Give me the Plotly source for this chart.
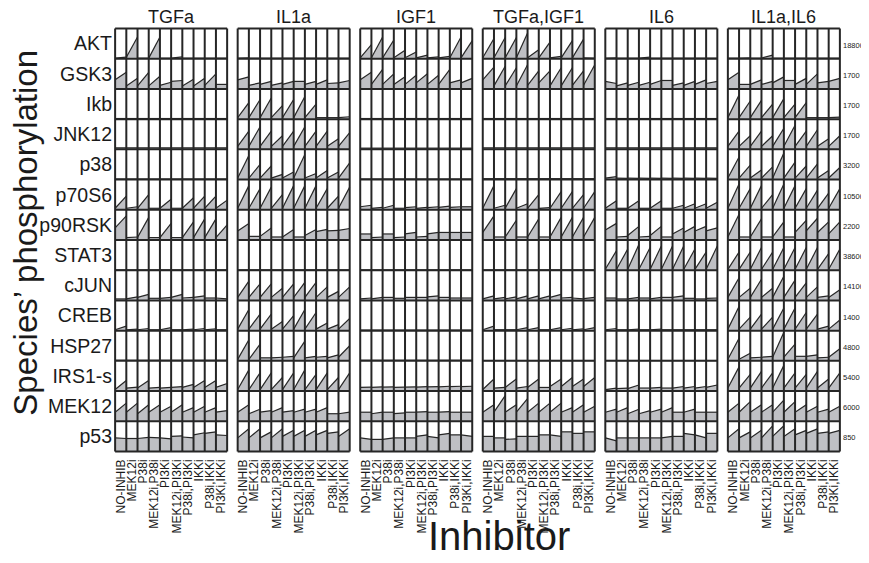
import plotly.graph_objects as go

stimuli = ["TGFa", "IL1a", "IGF1", "TGFa,IGF1", "IL6", "IL1a,IL6"]
inhibitors = ["NO-INHIB", "MEK12i", "P38i", "MEK12i,P38i", "PI3Ki", "MEK12i,PI3Ki",
              "P38i,PI3Ki", "IKKi", "P38i,IKKi", "PI3Ki,IKKi"]
species = ["AKT", "GSK3", "Ikb", "JNK12", "p38", "p70S6", "p90RSK", "STAT3",
           "cJUN", "CREB", "HSP27", "IRS1-s", "MEK12", "p53"]
max_values = ["18800", "1700", "1700", "1700", "3200", "10500", "2200", "38600",
              "14100", "1400", "4800", "5400", "6000", "850"]

# normalised values at t=0 and t=30 (one sub-list per stimulus, 10 inhibitors each)
AKT_t0 = [[0.02, 0.05, 0.02, 0.02, 0.02, 0.02, 0.02, 0.02, 0.02, 0.02],
          [0.02] * 10, [0.03] * 10, [0.03] * 10, [0.02] * 10, [0.02] * 10]
AKT_t30 = [[0.05, 0.72, 0.02, 0.72, 0.02, 0.06, 0.02, 0.02, 0.02, 0.02],
           [0.03, 0.02, 0.02, 0.02, 0.02, 0.02, 0.02, 0.02, 0.02, 0.02],
           [0.47, 0.72, 0.62, 0.28, 0.22, 0.12, 0.06, 0.08, 0.72, 0.60],
           [0.67, 0.70, 0.70, 0.85, 0.30, 0.55, 0.08, 0.60, 0.65, 0.02],
           [0.03, 0.02, 0.02, 0.05, 0.02, 0.02, 0.02, 0.02, 0.02, 0.02],
           [0.02, 0.03, 0.02, 0.12, 0.02, 0.02, 0.02, 0.02, 0.02, 0.02]]

GSK3_t0 = [[0.30, 0.10, 0.10, 0.10, 0.12, 0.25, 0.10, 0.10, 0.12, 0.15],
           [0.30, 0.12, 0.15, 0.12, 0.15, 0.25, 0.15, 0.15, 0.18, 0.20],
           [0.30, 0.15, 0.15, 0.15, 0.15, 0.20, 0.15, 0.15, 0.20, 0.20],
           [0.30, 0.10, 0.10, 0.10, 0.12, 0.20, 0.10, 0.10, 0.12, 0.12],
           [0.25, 0.10, 0.12, 0.12, 0.15, 0.28, 0.12, 0.12, 0.15, 0.18],
           [0.30, 0.15, 0.15, 0.15, 0.20, 0.28, 0.15, 0.15, 0.20, 0.25]]
GSK3_t30 = [[0.55, 0.35, 0.55, 0.42, 0.22, 0.28, 0.32, 0.35, 0.50, 0.15],
            [0.40, 0.20, 0.25, 0.20, 0.25, 0.25, 0.25, 0.30, 0.20, 0.28],
            [0.55, 0.65, 0.50, 0.40, 0.45, 0.50, 0.45, 0.65, 0.30, 0.35],
            [0.72, 0.75, 0.70, 0.80, 0.60, 0.60, 0.70, 0.70, 0.60, 0.80],
            [0.18, 0.20, 0.22, 0.22, 0.28, 0.28, 0.20, 0.25, 0.30, 0.25],
            [0.55, 0.15, 0.30, 0.25, 0.40, 0.28, 0.35, 0.50, 0.25, 0.35]]

Ikb_t0 = [[0.02] * 10, [0.05] * 10, [0.02] * 10, [0.02] * 10, [0.02] * 10, [0.05] * 10]
Ikb_t30 = [[0.02] * 10,
           [0.55, 0.65, 0.70, 0.45, 0.65, 0.75, 0.50, 0.05, 0.05, 0.08],
           [0.02] * 10, [0.02] * 10, [0.02] * 10,
           [0.80, 0.60, 0.62, 0.50, 0.68, 0.50, 0.55, 0.05, 0.05, 0.07]]

JNK12_t0 = [[0.05] * 10, [0.10] * 10, [0.04] * 10, [0.05] * 10, [0.05] * 10, [0.10] * 10]
JNK12_t30 = [[0.05] * 10,
             [0.60, 0.75, 0.60, 0.45, 0.60, 0.75, 0.60, 0.60, 0.35, 0.55],
             [0.04] * 10, [0.05] * 10, [0.05] * 10,
             [0.60, 0.45, 0.60, 0.45, 0.70, 0.80, 0.60, 0.65, 0.35, 0.45]]

p38_t0 = [[0.02] * 10, [0.05] * 10, [0.02] * 10, [0.03] * 10, [0.05] * 10, [0.05] * 10]
p38_t30 = [[0.02] * 10,
           [0.80, 0.50, 0.45, 0.17, 0.25, 0.83, 0.20, 0.30, 0.25, 0.55],
           [0.02] * 10, [0.03] * 10,
           [0.10, 0.04, 0.04, 0.04, 0.04, 0.04, 0.04, 0.04, 0.04, 0.04],
           [0.75, 0.48, 0.32, 0.42, 0.88, 0.58, 0.45, 0.52, 0.30, 0.40]]

p70S6_t0 = [[0.05] * 10, [0.05] * 10,
            [0.10, 0.05, 0.05, 0.05, 0.07, 0.05, 0.07, 0.08, 0.08, 0.10],
            [0.05] * 10, [0.05] * 10, [0.05] * 10]
p70S6_t30 = [[0.45, 0.10, 0.50, 0.05, 0.35, 0.05, 0.40, 0.45, 0.45, 0.32],
             [0.80, 0.70, 0.75, 0.50, 0.80, 0.80, 0.80, 0.70, 0.45, 0.75],
             [0.15, 0.08, 0.15, 0.05, 0.10, 0.08, 0.10, 0.12, 0.10, 0.10],
             [0.80, 0.15, 0.70, 0.20, 0.50, 0.07, 0.60, 0.60, 0.50, 0.60],
             [0.30, 0.05, 0.30, 0.05, 0.30, 0.05, 0.15, 0.20, 0.20, 0.25],
             [0.85, 0.70, 0.80, 0.50, 0.85, 0.80, 0.70, 0.65, 0.55, 0.70]]

p90RSK_t0 = [[0.40, 0.08, 0.08, 0.08, 0.08, 0.08, 0.08, 0.08, 0.08, 0.08],
             [0.30, 0.12, 0.12, 0.10, 0.10, 0.10, 0.15, 0.28, 0.30, 0.32],
             [0.20, 0.08, 0.20, 0.08, 0.20, 0.10, 0.20, 0.25, 0.25, 0.25],
             [0.25, 0.10, 0.10, 0.10, 0.10, 0.10, 0.10, 0.10, 0.10, 0.10],
             [0.33, 0.10, 0.15, 0.10, 0.15, 0.10, 0.20, 0.25, 0.30, 0.30],
             [0.10, 0.10, 0.10, 0.10, 0.10, 0.10, 0.25, 0.30, 0.25, 0.20]]
p90RSK_t30 = [[0.80, 0.10, 0.75, 0.08, 0.55, 0.08, 0.60, 0.70, 0.70, 0.50],
              [0.55, 0.12, 0.40, 0.10, 0.35, 0.10, 0.35, 0.35, 0.32, 0.38],
              [0.20, 0.10, 0.20, 0.10, 0.25, 0.12, 0.25, 0.25, 0.25, 0.25],
              [0.80, 0.10, 0.65, 0.10, 0.70, 0.10, 0.75, 0.75, 0.75, 0.75],
              [0.55, 0.12, 0.45, 0.12, 0.45, 0.10, 0.40, 0.45, 0.45, 0.40],
              [0.85, 0.10, 0.70, 0.10, 0.60, 0.10, 0.65, 0.72, 0.60, 0.60]]

STAT3_t0 = [[0.01] * 10, [0.01] * 10, [0.01] * 10, [0.01] * 10, [0.03] * 10, [0.03] * 10]
STAT3_t30 = [[0.01] * 10, [0.01] * 10, [0.01] * 10, [0.01] * 10,
             [0.65, 0.70, 0.85, 0.75, 0.80, 0.80, 0.80, 0.70, 0.60, 0.80],
             [0.60, 0.60, 0.75, 0.60, 0.75, 0.75, 0.75, 0.75, 0.55, 0.70]]

cJUN_t0 = [[0.05, 0.05, 0.10, 0.07, 0.07, 0.10, 0.08, 0.10, 0.08, 0.08],
           [0.10] * 10,
           [0.05, 0.05, 0.10, 0.07, 0.10, 0.10, 0.12, 0.10, 0.08, 0.08],
           [0.05, 0.05, 0.05, 0.05, 0.05, 0.05, 0.10, 0.08, 0.08, 0.06],
           [0.08, 0.05, 0.05, 0.08, 0.05, 0.10, 0.10, 0.07, 0.05, 0.07],
           [0.10] * 10]
cJUN_t30 = [[0.05, 0.12, 0.20, 0.07, 0.10, 0.20, 0.10, 0.15, 0.08, 0.05],
            [0.64, 0.55, 0.55, 0.40, 0.55, 0.60, 0.60, 0.45, 0.30, 0.45],
            [0.08, 0.10, 0.10, 0.07, 0.10, 0.10, 0.15, 0.10, 0.08, 0.08],
            [0.15, 0.10, 0.12, 0.15, 0.15, 0.15, 0.20, 0.10, 0.05, 0.10],
            [0.08, 0.05, 0.10, 0.08, 0.10, 0.10, 0.15, 0.07, 0.05, 0.08],
            [0.75, 0.40, 0.70, 0.40, 0.80, 0.67, 0.58, 0.45, 0.15, 0.35]]

CREB_t0 = [[0.03] * 10, [0.05] * 10, [0.02] * 10, [0.03] * 10, [0.03] * 10, [0.05] * 10]
CREB_t30 = [[0.15, 0.05, 0.07, 0.03, 0.10, 0.03, 0.05, 0.07, 0.06, 0.03],
            [0.70, 0.55, 0.55, 0.30, 0.50, 0.70, 0.60, 0.25, 0.20, 0.40],
            [0.02] * 10,
            [0.15, 0.03, 0.03, 0.10, 0.10, 0.03, 0.10, 0.08, 0.06, 0.10],
            [0.07, 0.03, 0.05, 0.03, 0.05, 0.03, 0.03, 0.03, 0.03, 0.03],
            [0.80, 0.45, 0.55, 0.45, 0.75, 0.75, 0.60, 0.55, 0.15, 0.35]]

HSP27_t0 = [[0.02] * 10,
            [0.05, 0.05, 0.10, 0.10, 0.12, 0.10, 0.10, 0.12, 0.10, 0.12],
            [0.02] * 10, [0.01] * 10, [0.01] * 10,
            [0.05, 0.05, 0.10, 0.12, 0.12, 0.12, 0.15, 0.15, 0.10, 0.12]]
HSP27_t30 = [[0.02] * 10,
             [0.70, 0.55, 0.10, 0.12, 0.15, 0.65, 0.15, 0.15, 0.20, 0.50],
             [0.02] * 10, [0.01] * 10, [0.01] * 10,
             [0.75, 0.25, 0.12, 0.15, 0.95, 0.55, 0.15, 0.20, 0.12, 0.40]]

IRS1_t0 = [[0.05, 0.10, 0.10, 0.10, 0.10, 0.12, 0.12, 0.12, 0.12, 0.12],
           [0.05] * 10,
           [0.12, 0.12, 0.13, 0.12, 0.13, 0.13, 0.14, 0.14, 0.15, 0.15],
           [0.05, 0.10, 0.12, 0.10, 0.12, 0.12, 0.15, 0.15, 0.15, 0.15],
           [0.05, 0.08, 0.08, 0.10, 0.10, 0.10, 0.10, 0.10, 0.10, 0.12],
           [0.10] * 10]
IRS1_t30 = [[0.35, 0.13, 0.35, 0.12, 0.12, 0.15, 0.22, 0.35, 0.35, 0.25],
            [0.70, 0.60, 0.60, 0.45, 0.60, 0.70, 0.55, 0.60, 0.45, 0.60],
            [0.13, 0.14, 0.14, 0.13, 0.14, 0.15, 0.15, 0.16, 0.16, 0.16],
            [0.40, 0.12, 0.40, 0.15, 0.40, 0.12, 0.40, 0.45, 0.40, 0.45],
            [0.10, 0.10, 0.20, 0.10, 0.12, 0.10, 0.15, 0.15, 0.15, 0.20],
            [0.80, 0.55, 0.65, 0.60, 0.85, 0.60, 0.55, 0.65, 0.40, 0.60]]

MEK12_t0 = [[0.30, 0.30, 0.25, 0.30, 0.30, 0.30, 0.30, 0.30, 0.30, 0.30],
            [0.30, 0.25, 0.30, 0.30, 0.30, 0.30, 0.30, 0.30, 0.25, 0.25],
            [0.30, 0.25, 0.30, 0.25, 0.30, 0.30, 0.30, 0.30, 0.30, 0.30],
            [0.30] * 10,
            [0.30, 0.30, 0.25, 0.25, 0.30, 0.30, 0.30, 0.30, 0.30, 0.30],
            [0.30] * 10]
MEK12_t30 = [[0.60, 0.60, 0.55, 0.55, 0.50, 0.55, 0.45, 0.50, 0.45, 0.35],
             [0.55, 0.40, 0.35, 0.45, 0.35, 0.40, 0.40, 0.45, 0.25, 0.30],
             [0.30, 0.30, 0.30, 0.28, 0.30, 0.32, 0.30, 0.32, 0.30, 0.30],
             [0.55, 0.85, 0.55, 0.75, 0.60, 0.60, 0.60, 0.45, 0.55, 0.50],
             [0.40, 0.45, 0.40, 0.35, 0.40, 0.45, 0.30, 0.40, 0.30, 0.30],
             [0.60, 0.65, 0.55, 0.55, 0.70, 0.65, 0.55, 0.50, 0.40, 0.50]]

p53_t0 = [[0.45, 0.43, 0.43, 0.47, 0.45, 0.50, 0.48, 0.55, 0.60, 0.55],
          [0.45, 0.45, 0.45, 0.45, 0.50, 0.50, 0.50, 0.55, 0.60, 0.50],
          [0.45, 0.40, 0.40, 0.45, 0.45, 0.50, 0.50, 0.55, 0.55, 0.55],
          [0.50, 0.45, 0.40, 0.50, 0.50, 0.55, 0.55, 0.65, 0.60, 0.65],
          [0.45, 0.45, 0.45, 0.45, 0.45, 0.45, 0.50, 0.60, 0.55, 0.60],
          [0.45, 0.45, 0.45, 0.45, 0.50, 0.50, 0.55, 0.60, 0.60, 0.60]]
p53_t30 = [[0.43, 0.43, 0.47, 0.45, 0.42, 0.52, 0.45, 0.62, 0.65, 0.53],
           [0.75, 0.75, 0.65, 0.75, 0.70, 0.70, 0.70, 0.70, 0.65, 0.75],
           [0.40, 0.40, 0.45, 0.45, 0.45, 0.55, 0.45, 0.60, 0.55, 0.50],
           [0.50, 0.45, 0.42, 0.50, 0.50, 0.55, 0.50, 0.65, 0.60, 0.65],
           [0.35, 0.45, 0.45, 0.45, 0.45, 0.50, 0.50, 0.55, 0.45, 0.60],
           [0.75, 0.65, 0.70, 0.85, 0.85, 0.75, 0.70, 0.75, 0.65, 0.70]]

start_vals = [AKT_t0, GSK3_t0, Ikb_t0, JNK12_t0, p38_t0, p70S6_t0, p90RSK_t0,
              STAT3_t0, cJUN_t0, CREB_t0, HSP27_t0, IRS1_t0, MEK12_t0, p53_t0]
end_vals = [AKT_t30, GSK3_t30, Ikb_t30, JNK12_t30, p38_t30, p70S6_t30, p90RSK_t30,
            STAT3_t30, cJUN_t30, CREB_t30, HSP27_t30, IRS1_t30, MEK12_t30, p53_t30]

GAP = 0.94
n_inh = len(inhibitors)
n_sp = len(species)
FONT = "Liberation Sans, Arial, sans-serif"
DARK = "#262626"
TXT = "#1a1a1a"

def block_off(b):
    return b * (n_inh + GAP)

fx, fy, lx, ly = [], [], [], []
for r in range(n_sp):
    base = n_sp - 1 - r
    for b in range(len(stimuli)):
        off = block_off(b)
        for i in range(n_inh):
            s = start_vals[r][b][i]
            e = end_vals[r][b][i]
            x0, x1 = off + i, off + i + 1
            fx += [x0, x0, x1, x1, x0, None]
            fy += [base, base + s, base + e, base, base, None]
            lx += [x0, x1, None]
            ly += [base + s, base + e, None]

gx, gy = [], []
for b in range(len(stimuli)):
    off = block_off(b)
    for i in range(n_inh + 1):
        gx += [off + i, off + i, None]
        gy += [0, n_sp, None]
    for k in range(n_sp + 1):
        gx += [off, off + n_inh, None]
        gy += [k, k, None]

fig = go.Figure()
fig.add_trace(go.Scatter(x=fx, y=fy, mode="lines", fill="toself",
                         fillcolor="#bfc0c4", line=dict(width=0),
                         hoverinfo="skip", showlegend=False))
fig.add_trace(go.Scatter(x=lx, y=ly, mode="lines",
                         line=dict(color=DARK, width=1.2),
                         hoverinfo="skip", showlegend=False))
fig.add_trace(go.Scatter(x=gx, y=gy, mode="lines",
                         line=dict(color=DARK, width=2),
                         hoverinfo="skip", showlegend=False))

xmax = block_off(len(stimuli) - 1) + n_inh
tickvals = [block_off(b) + i + 0.5 for b in range(len(stimuli)) for i in range(n_inh)]
ticktext = [inhibitors[i] for b in range(len(stimuli)) for i in range(n_inh)]

annotations = []
for b, st in enumerate(stimuli):
    annotations.append(dict(x=block_off(b) + n_inh / 2, y=1, xref="x", yref="paper",
                            yanchor="bottom", yshift=-2, text=st, showarrow=False,
                            font=dict(family=FONT, size=18, color=TXT)))
for r, mv in enumerate(max_values):
    annotations.append(dict(x=1, y=n_sp - 1 - r + 0.45, xref="paper", yref="y",
                            xanchor="left", xshift=0, text=mv, showarrow=False,
                            font=dict(family=FONT, size=7.5, color=TXT)))
annotations.append(dict(x=0.53, y=-0.195, xref="paper", yref="paper",
                        xanchor="center", yanchor="middle",
                        text="Inhibitor", showarrow=False,
                        font=dict(family=FONT, size=40, color=TXT)))
annotations.append(dict(x=-0.122, y=0.518, xref="paper", yref="paper",
                        xanchor="center", yanchor="middle",
                        text="Species’ phosphorylation", textangle=-90, showarrow=False,
                        font=dict(family=FONT, size=33, color=TXT)))

# the page body adds an 8 px offset, so the figure is sized and margined to compensate
fig.update_layout(
    width=861, height=555,
    margin=dict(l=106, r=28, t=19, b=110),
    paper_bgcolor="white", plot_bgcolor="white",
    xaxis=dict(range=[-0.1, xmax + 0.1], showgrid=False, zeroline=False,
               showline=False, tickmode="array", tickvals=tickvals, ticktext=ticktext,
               tickangle=-90, ticks="", automargin=False, ticklabelstandoff=3,
               tickfont=dict(family=FONT, size=12, color=TXT)),
    yaxis=dict(range=[-0.05, n_sp + 0.05], showgrid=False, zeroline=False,
               showline=False, tickmode="array", automargin=False,
               tickvals=[n_sp - 1 - r + 0.5 for r in range(n_sp)], ticktext=species,
               ticks="", ticklabelstandoff=1,
               tickfont=dict(family=FONT, size=19.5, color=TXT)),
    annotations=annotations,
)

fig.write_html("out.html")
